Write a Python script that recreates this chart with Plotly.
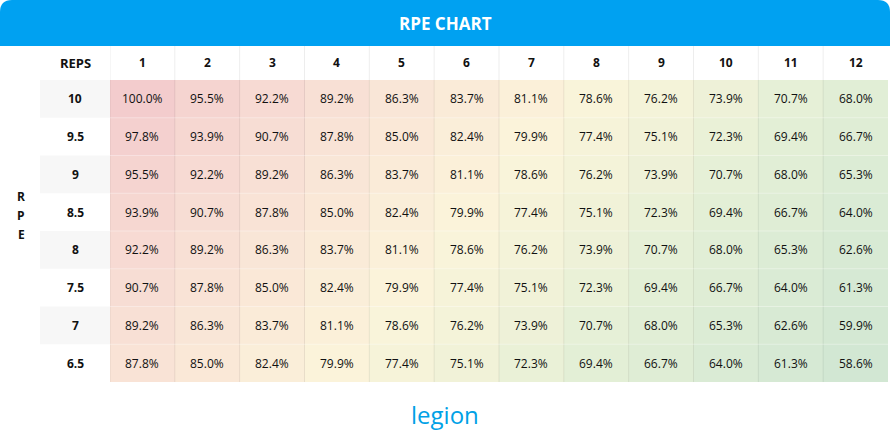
import plotly.graph_objects as go

reps = ["1", "2", "3", "4", "5", "6", "7", "8", "9", "10", "11", "12"]
rpe = ["10", "9.5", "9", "8.5", "8", "7.5", "7", "6.5"]
pct = [
    [100.0, 95.5, 92.2, 89.2, 86.3, 83.7, 81.1, 78.6, 76.2, 73.9, 70.7, 68.0],
    [97.8, 93.9, 90.7, 87.8, 85.0, 82.4, 79.9, 77.4, 75.1, 72.3, 69.4, 66.7],
    [95.5, 92.2, 89.2, 86.3, 83.7, 81.1, 78.6, 76.2, 73.9, 70.7, 68.0, 65.3],
    [93.9, 90.7, 87.8, 85.0, 82.4, 79.9, 77.4, 75.1, 72.3, 69.4, 66.7, 64.0],
    [92.2, 89.2, 86.3, 83.7, 81.1, 78.6, 76.2, 73.9, 70.7, 68.0, 65.3, 62.6],
    [90.7, 87.8, 85.0, 82.4, 79.9, 77.4, 75.1, 72.3, 69.4, 66.7, 64.0, 61.3],
    [89.2, 86.3, 83.7, 81.1, 78.6, 76.2, 73.9, 70.7, 68.0, 65.3, 62.6, 59.9],
    [87.8, 85.0, 82.4, 79.9, 77.4, 75.1, 72.3, 69.4, 66.7, 64.0, 61.3, 58.6],
]

W, H = 890, 442
def px(x): return x / W
def py(y): return 1 - y / H

x0, x1 = px(110), px(888)
ytop, ybot = py(80), py(382)

fig = go.Figure()
fig.add_trace(go.Heatmap(
    z=pct, x=list(range(12)), y=list(range(8)),
    colorscale=[[0, "#d2e7d3"], [0.25, "#e2efd6"], [0.5, "#fbf4da"], [0.7, "#f9e3d6"], [1, "#f3cccd"]],
    zmin=58.6, zmax=100, showscale=False, hoverinfo="skip",
))

shapes = []
# blue header with rounded top corners
rx, ry = px(12), 12 / H
hb = py(46)
shapes.append(dict(type="path", xref="paper", yref="paper", fillcolor="#00a1f1", line=dict(width=0),
                   path=f"M 0 {hb} L 0 {1-ry} Q 0 1 {rx} 1 L {1-rx} 1 Q 1 1 1 {1-ry} L 1 {hb} Z"))
# grey bands behind RPE labels
for i in range(0, 8, 2):
    shapes.append(dict(type="rect", xref="paper", yref="y", x0=px(40), x1=x0, y0=i - 0.5, y1=i + 0.5,
                       fillcolor="#f7f7f7", line=dict(width=0), layer="below"))
# vertical grid lines
for k in range(12):
    shapes.append(dict(type="line", xref="x", yref="paper", x0=k - 0.5, x1=k - 0.5, y0=ybot, y1=py(46),
                       line=dict(color="rgba(0,0,0,0.07)", width=1)))
for i in range(1, 8):
    shapes.append(dict(type="line", xref="paper", yref="y", x0=x0, x1=x1, y0=i - 0.5, y1=i - 0.5,
                       line=dict(color="rgba(255,255,255,0.35)", width=1)))

ann = []
font = "Open Sans"
def label(text, xref, yref, x, y, size, color="#111"):
    ann.append(dict(text=text, xref=xref, yref=yref, x=x, y=y, showarrow=False,
                    xanchor="center", yanchor="middle", font=dict(family=font, size=size, color=color)))

label("<b>RPE CHART</b>", "paper", "paper", 0.5, py(23), 17, "white")
label("<b>REPS</b>", "paper", "paper", px(75), py(63), 13)
for k, r in enumerate(reps):
    label("<b>" + r + "</b>", "x", "paper", k, py(63), 12)
for i, r in enumerate(rpe):
    label("<b>" + r + "</b>", "paper", "y", px(75), i, 12)
    for k in range(12):
        label(f"{pct[i][k]:.1f}%", "x", "y", k, i, 12)
for j, ch in enumerate("RPE"):
    label("<b>" + ch + "</b>", "paper", "paper", px(21), py(196 + 19 * j), 12)
label("legion", "paper", "paper", 0.5, py(414), 24, "#00a1e6")

fig.update_layout(
    width=W, height=H, margin=dict(l=0, r=0, t=0, b=0),
    paper_bgcolor="white", plot_bgcolor="white",
    xaxis=dict(domain=[x0, x1], range=[-0.5, 11.5], visible=False, fixedrange=True),
    yaxis=dict(domain=[ybot, ytop], range=[7.5, -0.5], visible=False, fixedrange=True),
    shapes=shapes, annotations=ann,
)
fig.write_html("out.html", config={"displayModeBar": False},
               post_script="document.body.style.margin='0';")
